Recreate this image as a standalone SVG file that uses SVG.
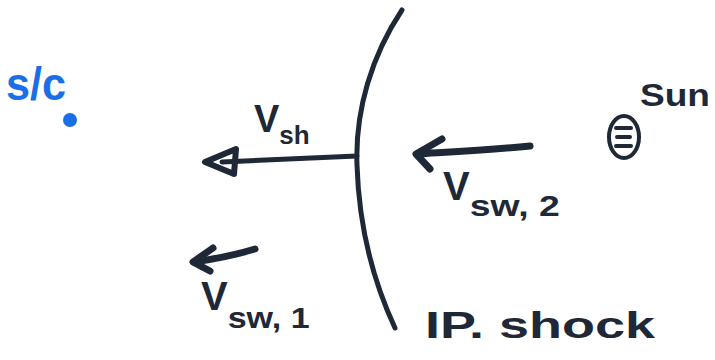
<svg xmlns="http://www.w3.org/2000/svg" width="715" height="360" viewBox="0 0 715 360">
<style>
.ink{fill:none;stroke:#1f2836;stroke-linecap:round;stroke-linejoin:round}
.t{font-family:"Liberation Sans",Arial,sans-serif;fill:#1f2836;font-weight:bold}
.b{font-family:"Liberation Sans",Arial,sans-serif;fill:#1a6ee8;font-weight:bold}
</style>
<rect width="715" height="360" fill="#ffffff"/>
<g id="spacecraft">
<text class="b" x="6" y="100" font-size="46" textLength="60" lengthAdjust="spacingAndGlyphs">s/c</text>
<circle cx="70" cy="120" r="7" fill="#1a6ee8"/>
</g>
<g id="shock">
<path class="ink" stroke-width="5" d="M402,10 C372,55 355,110 357,165 C359,230 375,285 395,328"/>
<text class="t" x="425" y="338" font-size="36" textLength="230" lengthAdjust="spacingAndGlyphs">IP. shock</text>
</g>
<g id="sun">
<ellipse class="ink" stroke-width="4" cx="624" cy="137" rx="15" ry="21"/>
<path class="ink" stroke-width="4" d="M616,128 H631 M617,137 H630 M616,146 H631"/>
<text class="t" x="640" y="106" font-size="32" textLength="70" lengthAdjust="spacingAndGlyphs">Sun</text>
</g>
<g id="connectors">
<g id="v-sh">
<path class="ink" stroke-width="5" d="M357,156 L222,162"/>
<path class="ink" stroke-width="6" d="M205,162 L236,149 L234,174 Z"/>
</g>
<g id="v-sw2">
<path class="ink" stroke-width="7" d="M530,146 C490,150 450,152 418,154"/>
<path class="ink" stroke-width="7" d="M442,139 L416,154 L430,169"/>
</g>
<g id="v-sw1">
<path class="ink" stroke-width="7" d="M255,249 C235,255 215,259 194,262"/>
<path class="ink" stroke-width="7" d="M213,248 L193,262 L210,271"/>
</g>
</g>
<g id="labels">
<text class="t" x="254" y="132" font-size="38">V<tspan font-size="26" dy="12">sh</tspan></text>
<text class="t" x="443" y="200" font-size="40">V<tspan font-size="30" dy="16" textLength="90" lengthAdjust="spacingAndGlyphs">sw, 2</tspan></text>
<text class="t" x="201" y="310" font-size="40">V<tspan font-size="30" dy="18" textLength="82" lengthAdjust="spacingAndGlyphs">sw, 1</tspan></text>
</g>
</svg>
